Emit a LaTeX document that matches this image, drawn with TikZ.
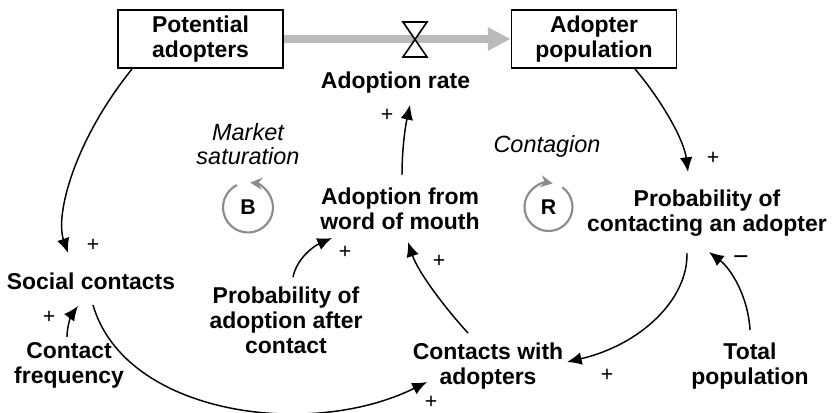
\documentclass[tikz,border=0pt]{standalone}
\usepackage{fontspec}
\setmainfont{Liberation Sans}
\usetikzlibrary{arrows.meta,calc}

\tikzset{
  stock/.style={draw, line width=1.4pt, minimum width=123.75pt, minimum height=43.5pt,
    inner sep=0pt, align=center, font=\bfseries\fontsize{17.2}{18.75}\selectfont},
  var/.style={inner sep=0pt, align=center, font=\bfseries\fontsize{17.2}{18.75}\selectfont},
  loopname/.style={inner sep=0pt, align=center, font=\itshape\fontsize{17.6}{18.5}\selectfont},
  loopletter/.style={inner sep=0pt, font=\bfseries\fontsize{16}{18}\selectfont},
  pol/.style={inner sep=0pt, font=\fontsize{16}{18}\selectfont},
  neg/.style={inner sep=0pt, font=\fontsize{20}{22}\selectfont},
  link/.style={line width=1.1pt, -{Latex[length=11pt,width=9.5pt]}},
  flow/.style={draw=black!27, line width=5.5pt, -{Triangle[length=17pt,width=16.5pt]}},
  loopc/.style={draw=black!45, line width=1.6pt, -{Stealth[length=9pt,width=9pt,inset=3pt]}},
  valvepart/.style={draw, fill=white, line width=1.2pt, line join=miter},
}

\begin{document}
\begin{tikzpicture}[x=0.75pt, y=-0.75pt]
  \useasboundingbox (0,0) rectangle (832,413);

  % stocks
  \node[stock] (pa) at (200.5,39) {Potential\\adopters};
  \node[stock] (ap) at (594,39) {Adopter\\population};

  % auxiliary variables
  \node[var] (ar)   at (395.5,83) {Adoption rate};
  \node[var] (awom) at (400,209)  {Adoption from\\word of mouth};
  \node[var] (pca)  at (707,213)  {Probability of\\contacting an adopter};
  \node[var] (sc)   at (91,281)   {Social contacts};
  \node[var] (cf)   at (69,365)   {Contact\\frequency};
  \node[var] (paac) at (286,320)  {Probability of\\adoption after\\contact};
  \node[var] (cwa)  at (488,366)  {Contacts with\\adopters};
  \node[var] (tp)   at (750,366)  {Total\\population};

  % material flow with valve
  \draw[flow] (pa.east) -- (ap.west);
  \coordinate (valve) at (415,39.5);
  \draw[valvepart] ($(valve)+(-12,-17.5)$) -- ($(valve)+(12,-17.5)$) -- (valve) -- cycle;
  \draw[valvepart] ($(valve)+(-12,17.5)$) -- ($(valve)+(12,17.5)$) -- (valve) -- cycle;

  % causal links
  \draw[link] ($(pa.south west)+(15,0)$) .. controls +(-58,72) and +(-13,-38) .. ($(sc)+(-23,-28)$);
  \draw[link] ($(ap.south)+(41,0)$) .. controls +(27,32) and +(-4,-32) .. ($(pca)+(-19,-41)$);
  \draw[link] ($(awom)+(2,-34)$) .. controls +(0,-25) and +(-5,23) .. ($(ar)+(14.5,22)$);
  \draw[link] ($(paac)+(7,-43)$) .. controls +(4,-19) and +(-18,8) .. ($(awom)+(-68,29)$);
  \draw[link] ($(cwa)+(-20,-33)$) .. controls +(-23,-25) and +(10,30) .. ($(awom)+(8,33)$);
  \draw[link] ($(pca)+(-20,40)$) .. controls +(1,47) and +(73,-17) .. ($(cwa)+(79,-4)$);
  \draw[link] ($(tp)+(0,-36)$) .. controls +(-2,-35) and +(21,16) .. ($(pca)+(2,39)$);
  \draw[link] ($(sc)+(2,24)$) .. controls +(32,110) and +(-117,58) .. ($(cwa)+(-61,16)$);
  \draw[link] ($(cf)+(-2,-28)$) .. controls +(0,-12) and +(-6,8) .. ($(sc)+(-13,25)$);

  % polarities
  \node[pol] (p1) at (387,115) {+};
  \node[pol] (p2) at (93,245)  {+};
  \node[pol] (p3) at (49,317)  {+};
  \node[pol] (p4) at (345,252) {+};
  \node[pol] (p5) at (439,261) {+};
  \node[pol] (p6) at (713,158) {+};
  \node[pol] (p7) at (607,375) {+};
  \node[pol] (p8) at (431,402) {+};
  \node[neg] (n1) at (741,261) {−};

  % feedback loops
  \node[loopname] (ms)   at (248,144) {Market\\saturation};
  \node[loopname] (cont) at (547,146) {Contagion};
  \node[loopletter] (bl) at (248,207.5) {B};
  \node[loopletter] (rl) at (548.5,207) {R};
  \draw[loopc] ($(bl)+(-116:25)$) arc[start angle=-116, end angle=-445, radius=25];
  \draw[loopc] ($(rl)+(-55:24)$) arc[start angle=-55, end angle=280, radius=24];
\end{tikzpicture}
\end{document}
